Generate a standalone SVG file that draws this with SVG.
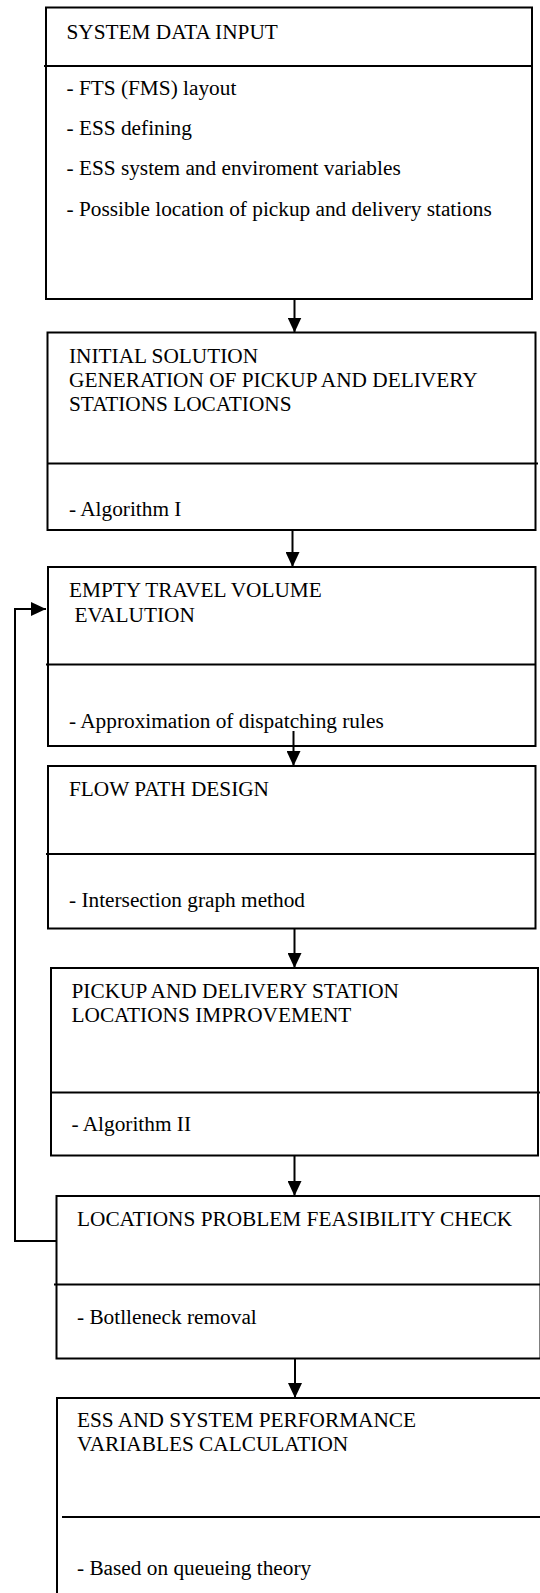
<svg xmlns="http://www.w3.org/2000/svg" width="540" height="1593" viewBox="0 0 540 1593">
<style>
.box{fill:#fff;stroke:#000;stroke-width:2}
.div{stroke:#000;stroke-width:2;fill:none}
.t{font-family:"Liberation Serif","Times New Roman",serif;font-size:21.3px;fill:#000}
.c{stroke:#000;stroke-width:2;fill:none}
</style>
<defs>
<marker id="ah" markerWidth="15" markerHeight="14" refX="15" refY="7" orient="auto" markerUnits="userSpaceOnUse">
<path d="M0,0 L15,7 L0,14 Z" fill="#000"/>
</marker>
</defs>
<rect width="540" height="1593" fill="#fff"/>
<g id="n1">
<rect class="box" x="46" y="7.5" width="486" height="291.5"/>
<line class="div" x1="44" y1="66" x2="532" y2="66"/>
<text class="t" x="66.5" y="38.5">SYSTEM DATA INPUT</text>
<text class="t" x="66.5" y="95">- FTS (FMS) layout</text>
<text class="t" x="66.5" y="135">- ESS defining</text>
<text class="t" x="66.5" y="175">- ESS system and enviroment variables</text>
<text class="t" x="66.5" y="216">- Possible location of pickup and delivery stations</text>
</g>
<g id="n2">
<rect class="box" x="47.5" y="332.5" width="488" height="197.5"/>
<line class="div" x1="47.5" y1="463.5" x2="538" y2="463.5"/>
<text class="t" x="69" y="363">INITIAL SOLUTION</text>
<text class="t" x="69" y="387">GENERATION OF PICKUP AND DELIVERY</text>
<text class="t" x="69" y="411">STATIONS LOCATIONS</text>
<text class="t" x="69" y="516">- Algorithm I</text>
</g>
<g id="n3">
<rect class="box" x="48" y="567" width="487.5" height="179"/>
<line class="div" x1="46" y1="664.5" x2="535.5" y2="664.5"/>
<text class="t" x="69" y="597">EMPTY TRAVEL VOLUME</text>
<text class="t" x="74.5" y="622">EVALUTION</text>
<text class="t" x="69" y="728">- Approximation of dispatching rules</text>
</g>
<g id="n4">
<rect class="box" x="48" y="766" width="487.5" height="162.5"/>
<line class="div" x1="46" y1="854" x2="535.5" y2="854"/>
<text class="t" x="69" y="796">FLOW PATH DESIGN</text>
<text class="t" x="69" y="907">- Intersection graph method</text>
</g>
<g id="n5">
<rect class="box" x="51" y="968" width="487" height="187.5"/>
<line class="div" x1="51" y1="1092.5" x2="540" y2="1092.5"/>
<text class="t" x="71.5" y="998">PICKUP AND DELIVERY STATION</text>
<text class="t" x="71.5" y="1022">LOCATIONS IMPROVEMENT</text>
<text class="t" x="71.5" y="1131">- Algorithm II</text>
</g>
<g id="n6">
<rect class="box" x="56.5" y="1196" width="484" height="162.5"/>
<line class="div" x1="54" y1="1284.5" x2="540" y2="1284.5"/>
<text class="t" x="77" y="1226">LOCATIONS PROBLEM FEASIBILITY CHECK</text>
<text class="t" x="77" y="1324">- Botlleneck removal</text>
</g>
<g id="n7">
<rect class="box" x="57" y="1398" width="484" height="210"/>
<line class="div" x1="62" y1="1517" x2="540" y2="1517"/>
<text class="t" x="77" y="1427">ESS AND SYSTEM PERFORMANCE</text>
<text class="t" x="77" y="1451">VARIABLES CALCULATION</text>
<text class="t" x="77" y="1575">- Based on queueing theory</text>
</g>
<g id="connectors">
<line class="c" x1="294.5" y1="299" x2="294.5" y2="332.5" marker-end="url(#ah)"/>
<line class="c" x1="292.5" y1="530" x2="292.5" y2="567" marker-end="url(#ah)"/>
<line class="c" x1="293.5" y1="731" x2="293.5" y2="766" marker-end="url(#ah)"/>
<line class="c" x1="294.5" y1="928.5" x2="294.5" y2="968" marker-end="url(#ah)"/>
<line class="c" x1="294.5" y1="1155.5" x2="294.5" y2="1196" marker-end="url(#ah)"/>
<line class="c" x1="295" y1="1358.5" x2="295" y2="1398" marker-end="url(#ah)"/>
<polyline class="c" points="56.5,1241 15,1241 15,609 46,609" marker-end="url(#ah)"/>
</g>
</svg>
